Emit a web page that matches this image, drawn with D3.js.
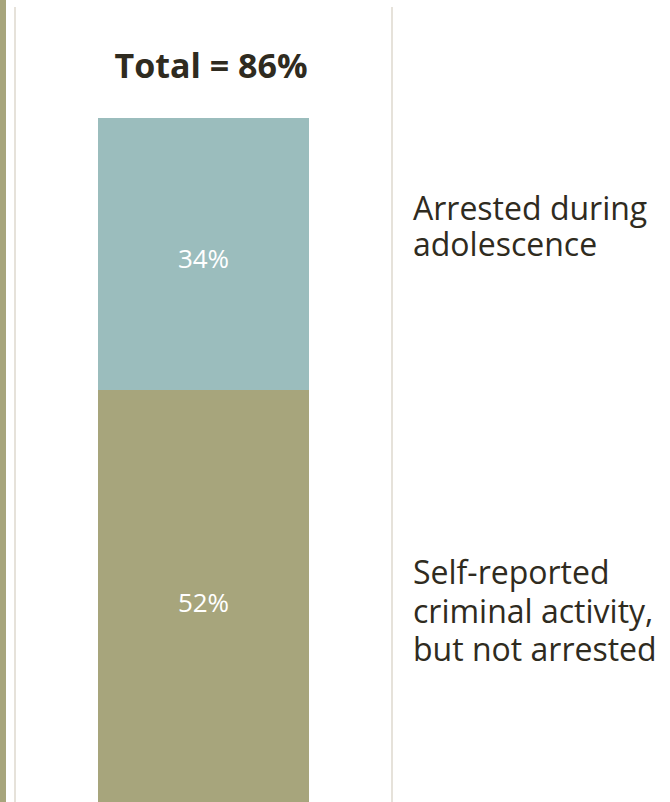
<!DOCTYPE html>
<html>
<head>
<meta charset="utf-8">
<script src="https://cdn.jsdelivr.net/npm/d3@7"></script>
<style>
  body { margin: 0; background: #fff; }
  svg { display: block; }
</style>
</head>
<body>
<script>
const width = 670;
const height = 802;

// data
const segments = ["Self-reported criminal activity, but not arrested", "Arrested during adolescence"];
const values = [52, 34];
const colors = ["#a7a57c", "#9bbdbd"];
const labelLines = [
    ["Self-reported", "criminal activity,", "but not arrested"],
    ["Arrested during", "adolescence"]
];
const total = d3.sum(values);

const svg = d3.select("body")
    .append("svg")
    .attr("width", width)
    .attr("height", height);

const font = "Candara, 'Open Sans', sans-serif";

// frame decoration
svg.append("rect")
    .attr("x", 0).attr("y", 0)
    .attr("width", 6).attr("height", height)
    .attr("fill", "#a7a57c");

svg.selectAll("line.sep")
    .data([15, 392])
    .enter().append("line")
    .attr("class", "sep")
    .attr("x1", d => d).attr("x2", d => d)
    .attr("y1", 7).attr("y2", height)
    .attr("stroke", "#e6e2da")
    .attr("stroke-width", 2);

// scales
const y = d3.scaleLinear()
    .domain([0, total])
    .range([806, 118]);

const x = d3.scaleBand()
    .domain(["total"])
    .range([98, 309])
    .padding(0);

let stack = [];
let acc = 0;
values.forEach((v, i) => {
    stack.push({ name: segments[i], value: v, y0: acc, y1: acc + v, color: colors[i], lines: labelLines[i] });
    acc += v;
});

const g = svg.append("g");

g.selectAll("rect.seg")
    .data(stack)
    .enter().append("rect")
    .attr("class", "seg")
    .attr("x", x("total"))
    .attr("width", x.bandwidth())
    .attr("y", d => y(d.y1))
    .attr("height", d => y(d.y0) - y(d.y1))
    .attr("fill", d => d.color);

// values inside bar
const valBase = [612, 268];
g.selectAll("text.val")
    .data(stack)
    .enter().append("text")
    .attr("class", "val")
    .attr("x", x("total") + x.bandwidth() / 2)
    .attr("y", (d, i) => valBase[i])
    .attr("text-anchor", "middle")
    .attr("fill", "#ffffff")
    .style("font-family", font)
    .style("font-size", "26px")
    .text(d => d.value + "%");

// title
svg.append("text")
    .attr("x", 211)
    .attr("y", 78)
    .attr("text-anchor", "middle")
    .attr("fill", "#2f2b20")
    .style("font-family", font)
    .style("font-size", "34px")
    .style("font-weight", "bold")
    .text("Total = " + total + "%");

// side labels
const labelTop = [584, 220];
const lineGap = [38.5, 36];
svg.selectAll("text.lab")
    .data(stack)
    .enter().append("text")
    .attr("class", "lab")
    .attr("x", 413)
    .attr("y", (d, i) => labelTop[i])
    .attr("fill", "#2f2b20")
    .style("font-family", font)
    .style("font-size", "32px")
    .each(function (d, i) {
        d3.select(this).selectAll("tspan")
            .data(d.lines)
            .enter().append("tspan")
            .attr("x", 413)
            .attr("dy", (t, j) => j === 0 ? 0 : lineGap[i])
            .text(t => t);
    });
</script>
</body>
</html>
